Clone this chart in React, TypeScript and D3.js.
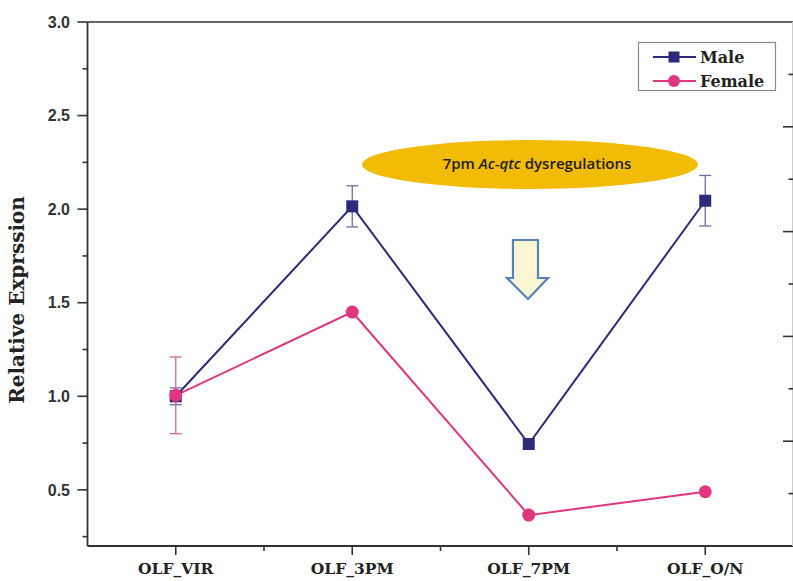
import React from "react";
import * as d3 from "d3";

const categories = ["OLF_VIR", "OLF_3PM", "OLF_7PM", "OLF_O/N"];
const maleValues = [1.0, 2.015, 0.745, 2.045];
const maleErrors = [0.045, 0.11, 0, 0.135];
const femaleValues = [1.005, 1.45, 0.365, 0.49];
const femaleErrors = [0.205, 0, 0, 0];
const yMajorTicks = [0.5, 1.0, 1.5, 2.0, 2.5, 3.0];
const yMinorTicks = [0.25, 0.75, 1.25, 1.75, 2.25, 2.75];
const seriesNames = ["Male", "Female"];

const W = 793;
const H = 581;
const left = 87.5;
const right = 793.5;
const top = 22;
const bottom = 546;

const MALE = "#2d2a7c";
const MALE_ERR = "#6f6cae";
const FEMALE = "#e0357f";
const FEMALE_ERR = "#d8679c";

export default function App() {
  const x = d3.scalePoint<string>().domain(categories).range([left, right]).padding(0.5);
  const y = d3.scaleLinear().domain([0.2, 3.0]).range([bottom, top]);
  const yRight = d3.scaleLinear().domain([0, 10]).range([bottom, top]);
  const step = x.step();

  const line = d3
    .line<number>()
    .x((_, i) => x(categories[i]) as number)
    .y((d) => y(d));

  const minorX = categories.map((c) => (x(c) as number) + step / 2).slice(0, 3);

  const serif = "'DejaVu Serif', serif";
  const sans = "'Liberation Sans', Arial, sans-serif";

  return (
    <div style={{ position: "absolute", left: 0, top: 0 }}>
      <svg width={W} height={H} style={{ display: "block", background: "#fff" }}>
        {/* frame */}
        <line x1={left} x2={W} y1={top} y2={top} stroke="#333" strokeWidth={1.6} />
        <line x1={left} x2={W} y1={bottom} y2={bottom} stroke="#333" strokeWidth={1.8} />
        <line x1={left} x2={left} y1={top} y2={bottom} stroke="#333" strokeWidth={1.8} />
        <line x1={792.5} x2={792.5} y1={top} y2={bottom} stroke="#ccc" strokeWidth={1} />

        {/* left axis ticks */}
        {yMajorTicks.map((t) => (
          <g key={"ym" + t}>
            <line x1={left - 10} x2={left} y1={y(t)} y2={y(t)} stroke="#333" strokeWidth={1.6} />
            <text
              x={70}
              y={y(t)}
              dy="0.36em"
              textAnchor="end"
              fontFamily={sans}
              fontWeight="bold"
              fontSize={16}
              fill="#333"
            >
              {t.toFixed(1)}
            </text>
          </g>
        ))}
        {yMinorTicks.map((t) => (
          <line key={"yn" + t} x1={left - 5} x2={left} y1={y(t)} y2={y(t)} stroke="#333" strokeWidth={1.6} />
        ))}

        {/* right axis ticks (inward) */}
        {yRight.ticks(10).map((t) =>
          t === 0 || t === 10 ? null : (
            <line
              key={"yr" + t}
              x1={t % 2 === 0 ? 783 : 788.5}
              x2={793}
              y1={yRight(t)}
              y2={yRight(t)}
              stroke="#333"
              strokeWidth={1.6}
            />
          )
        )}

        {/* x axis ticks */}
        {categories.map((c) => (
          <g key={"xt" + c}>
            <line x1={x(c)} x2={x(c)} y1={bottom} y2={bottom + 9} stroke="#333" strokeWidth={1.6} />
            <text
              x={x(c)}
              y={574}
              textAnchor="middle"
              fontFamily={serif}
              fontWeight="bold"
              fontSize={15.5}
              fill="#222"
            >
              {c}
            </text>
          </g>
        ))}
        {minorX.map((mx, i) => (
          <line key={"xm" + i} x1={mx} x2={mx} y1={bottom} y2={bottom + 5} stroke="#333" strokeWidth={1.6} />
        ))}

        {/* y axis title */}
        <text
          transform={`translate(24, 300) rotate(-90)`}
          textAnchor="middle"
          fontFamily={serif}
          fontWeight="bold"
          fontSize={20}
          fill="#222"
        >
          Relative Exprssion
        </text>

        {/* annotation ellipse */}
        <ellipse cx={530} cy={164.5} rx={168} ry={24.5} fill="#f2bb06" />
        <text
          x={537}
          y={164}
          dy="0.35em"
          textAnchor="middle"
          fontFamily="'Open Sans', sans-serif"
          fontWeight={600}
          fontSize={15}
          fill="#1d1d1d"
        >
          7pm <tspan fontStyle="italic">Ac-qtc</tspan> dysregulations
        </text>

        {/* down arrow */}
        <path
          d="M513,240 L538,240 L538,278 L548,278 L528,299 L507,278 L513,278 Z"
          fill="#fdf6d2"
          stroke="#5283bb"
          strokeWidth={2.2}
          strokeLinejoin="miter"
        />

        {/* error bars */}
        {maleValues.map((v, i) =>
          maleErrors[i] > 0 ? (
            <g key={"me" + i} stroke={MALE_ERR} strokeWidth={1.3}>
              <line x1={x(categories[i])} x2={x(categories[i])} y1={y(v + maleErrors[i])} y2={y(v - maleErrors[i])} />
              <line x1={(x(categories[i]) as number) - 6} x2={(x(categories[i]) as number) + 6} y1={y(v + maleErrors[i])} y2={y(v + maleErrors[i])} />
              <line x1={(x(categories[i]) as number) - 6} x2={(x(categories[i]) as number) + 6} y1={y(v - maleErrors[i])} y2={y(v - maleErrors[i])} />
            </g>
          ) : null
        )}
        {femaleValues.map((v, i) =>
          femaleErrors[i] > 0 ? (
            <g key={"fe" + i} stroke={FEMALE_ERR} strokeWidth={1.3}>
              <line x1={x(categories[i])} x2={x(categories[i])} y1={y(v + femaleErrors[i])} y2={y(v - femaleErrors[i])} />
              <line x1={(x(categories[i]) as number) - 6} x2={(x(categories[i]) as number) + 6} y1={y(v + femaleErrors[i])} y2={y(v + femaleErrors[i])} />
              <line x1={(x(categories[i]) as number) - 6} x2={(x(categories[i]) as number) + 6} y1={y(v - femaleErrors[i])} y2={y(v - femaleErrors[i])} />
            </g>
          ) : null
        )}

        {/* lines */}
        <path d={line(maleValues) || ""} fill="none" stroke={MALE} strokeWidth={2} />
        <path d={line(femaleValues) || ""} fill="none" stroke={FEMALE} strokeWidth={2} />

        {/* markers */}
        {maleValues.map((v, i) => (
          <rect
            key={"mm" + i}
            x={(x(categories[i]) as number) - 6}
            y={y(v) - 6}
            width={12}
            height={12}
            fill={MALE}
          />
        ))}
        {femaleValues.map((v, i) => (
          <circle key={"fm" + i} cx={x(categories[i])} cy={y(v)} r={6.5} fill={FEMALE} />
        ))}

        {/* legend */}
        <rect x={638.5} y={42.5} width={137} height={48} fill="#fff" stroke="#8a8a8a" strokeWidth={1.2} />
        {seriesNames.map((name, i) => {
          const ly = 57 + i * 24;
          const col = i === 0 ? MALE : FEMALE;
          return (
            <g key={"lg" + name}>
              <line x1={653} x2={696} y1={ly} y2={ly} stroke={col} strokeWidth={2} />
              {i === 0 ? (
                <rect x={668.5} y={ly - 5.5} width={11} height={11} fill={col} />
              ) : (
                <circle cx={674} cy={ly} r={6} fill={col} />
              )}
              <text
                x={700}
                y={ly}
                dy="0.35em"
                fontFamily={serif}
                fontWeight="bold"
                fontSize={16}
                fill="#222"
              >
                {name}
              </text>
            </g>
          );
        })}
      </svg>
    </div>
  );
}
